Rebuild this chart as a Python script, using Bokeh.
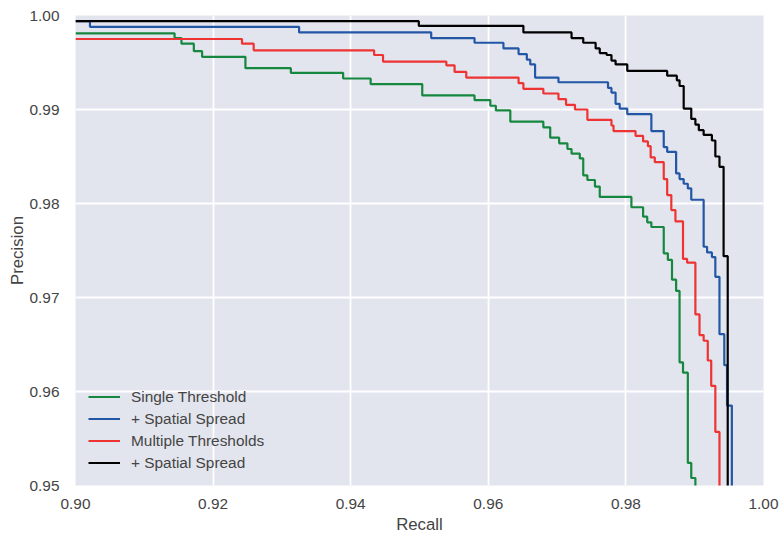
from bokeh.plotting import figure
from bokeh.models import Legend, LegendItem, FixedTicker, Range1d
from bokeh.embed import file_html
from bokeh.resources import INLINE

# Series: step curves (x = recall where precision level starts, y = precision level)
single_x = [0.900, 0.9144, 0.9154, 0.9172, 0.9184, 0.9247, 0.9313, 0.9389, 0.9429, 0.9504,
            0.9580, 0.9603, 0.9611, 0.9632, 0.9680, 0.9690, 0.9703, 0.9715, 0.9721, 0.9733,
            0.9738, 0.9744, 0.9755, 0.9762, 0.9808, 0.9825, 0.9831, 0.9837, 0.9855, 0.9861,
            0.9867, 0.9873, 0.9878, 0.9883, 0.9890, 0.9895, 0.9901]
single_y = [0.9981, 0.9976, 0.9970, 0.9962, 0.9956, 0.9944, 0.9939, 0.9933, 0.9927, 0.9915,
            0.9910, 0.9904, 0.9899, 0.9887, 0.9881, 0.9870, 0.9864, 0.9858, 0.9853, 0.9848,
            0.9830, 0.9825, 0.9818, 0.9807, 0.9796, 0.9786, 0.9780, 0.9775, 0.9747, 0.9740,
            0.9719, 0.9707, 0.9631, 0.9620, 0.9524, 0.9508, 0.9400]

spread1_x = [0.900, 0.9021, 0.9325, 0.9517, 0.9580, 0.9622, 0.9644, 0.9656, 0.9661, 0.9668,
             0.9702, 0.9774, 0.9779, 0.9785, 0.9791, 0.9802, 0.9837, 0.9855, 0.9860, 0.9873,
             0.9878, 0.9884, 0.9890, 0.9895, 0.9913, 0.9918, 0.9925, 0.9930, 0.9936, 0.9943,
             0.9947, 0.9954]
spread1_y = [0.9994, 0.9988, 0.9982, 0.9976, 0.9971, 0.9965, 0.9959, 0.9953, 0.9948, 0.9934,
             0.9929, 0.9923, 0.9918, 0.9906, 0.9901, 0.9895, 0.9877, 0.9860, 0.9855, 0.9832,
             0.9826, 0.9821, 0.9816, 0.9804, 0.9754, 0.9748, 0.9743, 0.9722, 0.9661, 0.9628,
             0.9585, 0.9400]

multi_x = [0.900, 0.9242, 0.9259, 0.9434, 0.9447, 0.9539, 0.9551, 0.9568, 0.9644, 0.9651,
           0.9680, 0.9702, 0.9713, 0.9726, 0.9744, 0.9779, 0.9782, 0.9814, 0.9825, 0.9832,
           0.9836, 0.9842, 0.9855, 0.9860, 0.9866, 0.9872, 0.9883, 0.9889, 0.9901, 0.9907,
           0.9913, 0.9919, 0.9924, 0.9930, 0.9936]
multi_y = [0.9975, 0.9970, 0.9963, 0.9958, 0.9951, 0.9947, 0.9940, 0.9934, 0.9928, 0.9922,
           0.9917, 0.9911, 0.9905, 0.9900, 0.9889, 0.9883, 0.9877, 0.9872, 0.9866, 0.9861,
           0.9849, 0.9844, 0.9826, 0.9809, 0.9793, 0.9781, 0.9741, 0.9737, 0.9682, 0.9660,
           0.9654, 0.9633, 0.9606, 0.9557, 0.9400]

multi_spread_x = [0.900, 0.9499, 0.9651, 0.9721, 0.9738, 0.9756, 0.9762, 0.9772, 0.9779, 0.9785,
                  0.9802, 0.9860, 0.9874, 0.9878, 0.9884, 0.9895, 0.9901, 0.9906, 0.9913, 0.9925,
                  0.9930, 0.9936, 0.9942, 0.9948]
multi_spread_y = [0.9994, 0.9989, 0.9982, 0.9976, 0.9971, 0.9965, 0.9960, 0.9958, 0.9952, 0.9948,
                  0.9941, 0.9936, 0.9931, 0.9925, 0.9901, 0.9890, 0.9884, 0.9878, 0.9873, 0.9867,
                  0.9850, 0.9839, 0.9744, 0.9400]

labels = ["Single Threshold", "+ Spatial Spread", "Multiple Thresholds", "+ Spatial Spread"]
colors = ["#15873F", "#2357A6", "#EE3333", "#000000"]
x_ticks = [0.90, 0.92, 0.94, 0.96, 0.98, 1.00]
y_ticks = [0.95, 0.96, 0.97, 0.98, 0.99, 1.00]

FONT = "Liberation Sans"
TEXT = "#444444"

p = figure(width=780, height=536, output_backend="svg", toolbar_location=None,
           x_range=Range1d(0.90, 1.00), y_range=Range1d(0.95, 1.00),
           min_border_left=75, min_border_right=17, min_border_top=15, min_border_bottom=51)
p.background_fill_color = "#E3E5EE"
p.border_fill_color = "white"
p.outline_line_color = None

series = [(single_x, single_y), (spread1_x, spread1_y), (multi_x, multi_y), (multi_spread_x, multi_spread_y)]
renderers = []
for (xs, ys), c in zip(series, colors):
    r = p.step(xs, ys, mode="after", line_color=c, line_width=2.2)
    renderers.append(r)

for ax in (p.xaxis[0], p.yaxis[0]):
    ax.axis_line_color = None
    ax.major_tick_line_color = None
    ax.minor_tick_line_color = None
    ax.major_label_text_font = FONT
    ax.major_label_text_font_size = "15.4px"
    ax.major_label_text_color = TEXT
    ax.axis_label_text_font = FONT
    ax.axis_label_text_font_size = "16.8px"
    ax.axis_label_text_font_style = "normal"
    ax.axis_label_text_color = TEXT

p.xaxis.ticker = FixedTicker(ticks=x_ticks)
p.yaxis.ticker = FixedTicker(ticks=y_ticks)
p.xaxis.major_label_overrides = {t: f"{t:.2f}" for t in x_ticks}
p.yaxis.major_label_overrides = {t: f"{t:.2f}" for t in y_ticks}
p.xaxis.axis_label = "Recall"
p.yaxis.axis_label = "Precision"
p.xaxis.major_label_standoff = 7
p.yaxis.major_label_standoff = 10
p.xaxis.axis_label_standoff = 3
p.yaxis.axis_label_standoff = 0

p.xgrid.grid_line_color = "white"
p.ygrid.grid_line_color = "white"
p.xgrid.grid_line_width = 1.8
p.ygrid.grid_line_width = 1.8

legend = Legend(items=[LegendItem(label=l, renderers=[r]) for l, r in zip(labels, renderers)],
                location="bottom_left")
legend.background_fill_alpha = 0
legend.border_line_color = None
legend.label_text_font = FONT
legend.label_text_font_size = "15.4px"
legend.label_text_color = TEXT
legend.glyph_width = 32
legend.label_standoff = 11
legend.spacing = 3
legend.label_height = 19
legend.glyph_height = 19
legend.margin = 13
legend.padding = 0
p.add_layout(legend)

open("out.html", "w").write(file_html(p, INLINE))
